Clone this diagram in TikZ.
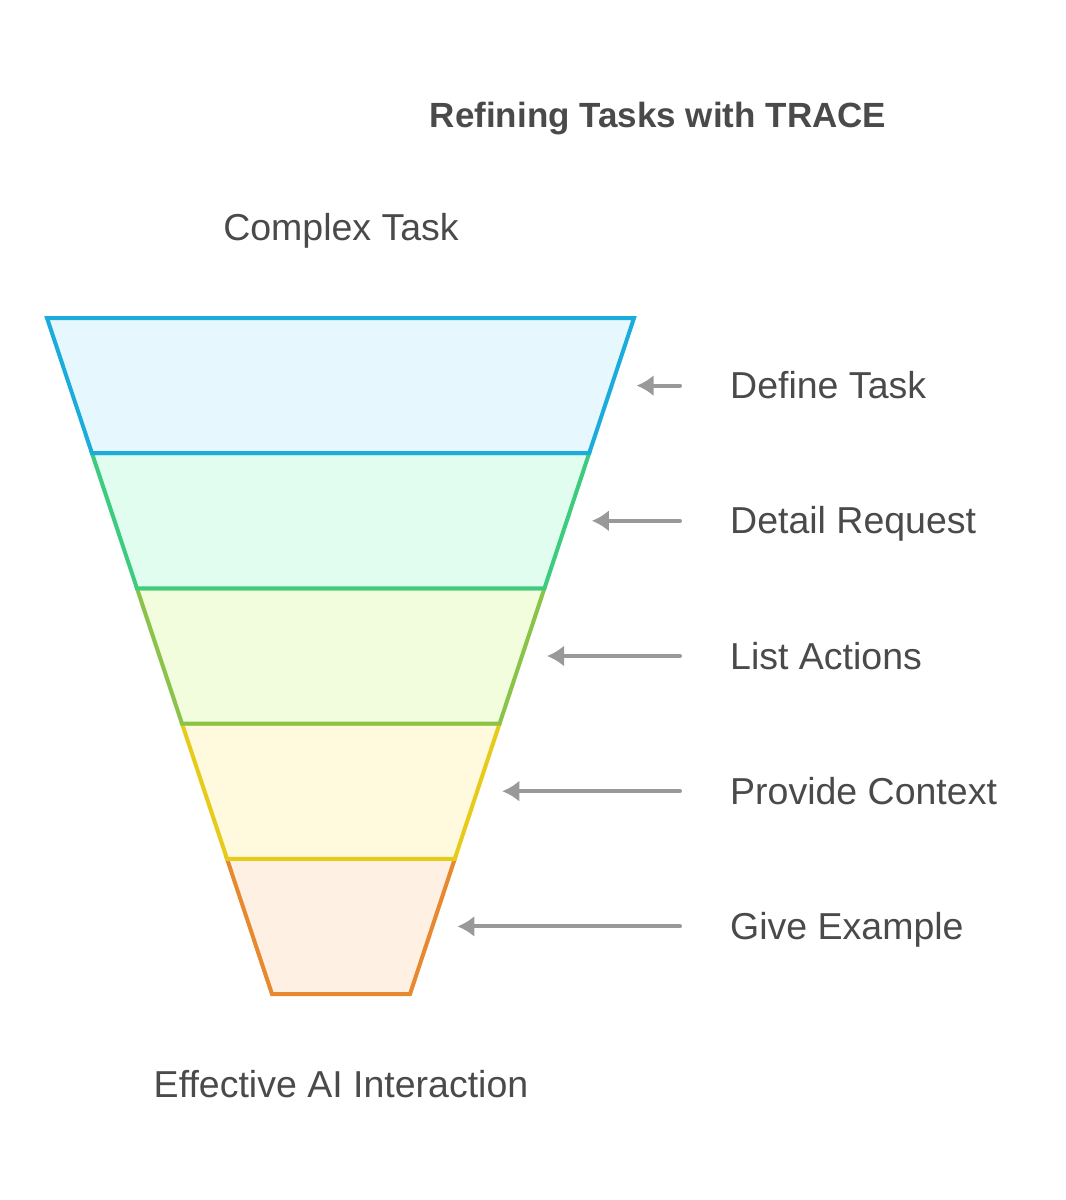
\documentclass[tikz,border=0pt]{standalone}
\usepackage{fontspec}
\setmainfont{Liberation Sans}
\usetikzlibrary{arrows.meta}

\definecolor{txtgray}{HTML}{4A4A4A}
\definecolor{ptrgray}{HTML}{999999}
\definecolor{fillA}{HTML}{E6F7FD}
\definecolor{lineA}{HTML}{1CACDB}
\definecolor{fillB}{HTML}{E1FDEF}
\definecolor{lineB}{HTML}{3DCB80}
\definecolor{fillC}{HTML}{F2FDDD}
\definecolor{lineC}{HTML}{8BC34A}
\definecolor{fillD}{HTML}{FFF9DE}
\definecolor{lineD}{HTML}{E6CB1A}
\definecolor{fillE}{HTML}{FFF0E4}
\definecolor{lineE}{HTML}{E6892F}

\begin{document}
\begin{tikzpicture}[x=1pt, y=-1pt,
    layer/.style={line width=4pt},
    steptext/.style={text=txtgray, inner sep=0pt, font=\fontsize{37.5}{45}\selectfont},
    heading/.style={text=txtgray, inner sep=0pt, font=\fontsize{35}{42}\selectfont\bfseries},
    pointer/.style={draw=ptrgray, line width=4pt, line cap=round,
        -{Latex[length=6mm, width=7.5mm]}}]

    \useasboundingbox (0,0) rectangle (1066,1200);

    % titles
    \node[heading, anchor=base] (title) at (658,127) {Refining Tasks with TRACE};
    \node[steptext, anchor=base] (top) at (341,240) {Complex Task};
    \node[steptext, anchor=base] (bottom) at (341,1097) {Effective AI Interaction};

    % funnel, drawn from the bottom up
    \foreach \i/\fc/\lc in {4/fillE/lineE, 3/fillD/lineD, 2/fillC/lineC, 1/fillB/lineB, 0/fillA/lineA} {
        \pgfmathsetmacro\yt{318+135.2*\i}
        \pgfmathsetmacro\yb{\yt+135.2}
        \pgfmathsetmacro\xl{47+45*\i}
        \pgfmathsetmacro\xr{634-44.8*\i}
        \draw[layer, fill=\fc, draw=\lc] (\xl,\yt) -- (\xr,\yt) -- (\xr-44.8,\yb) -- (\xl+45,\yb) -- cycle;
    }

    % steps and arrows
    \foreach \i/\txt in {0/Define Task, 1/Detail Request, 2/List Actions, 3/Provide Context, 4/Give Example} {
        \pgfmathsetmacro\ym{385.6+135.2*\i}
        \node[steptext, anchor=base west] (step\i) at (730,\ym+13) {\txt};
        \coordinate (tail\i) at (680,\ym);
        \coordinate (tip\i) at ({659-44.8*(\i+0.5)},\ym);
        \draw[pointer] (tail\i) -- (tip\i);
    }
\end{tikzpicture}
\end{document}
